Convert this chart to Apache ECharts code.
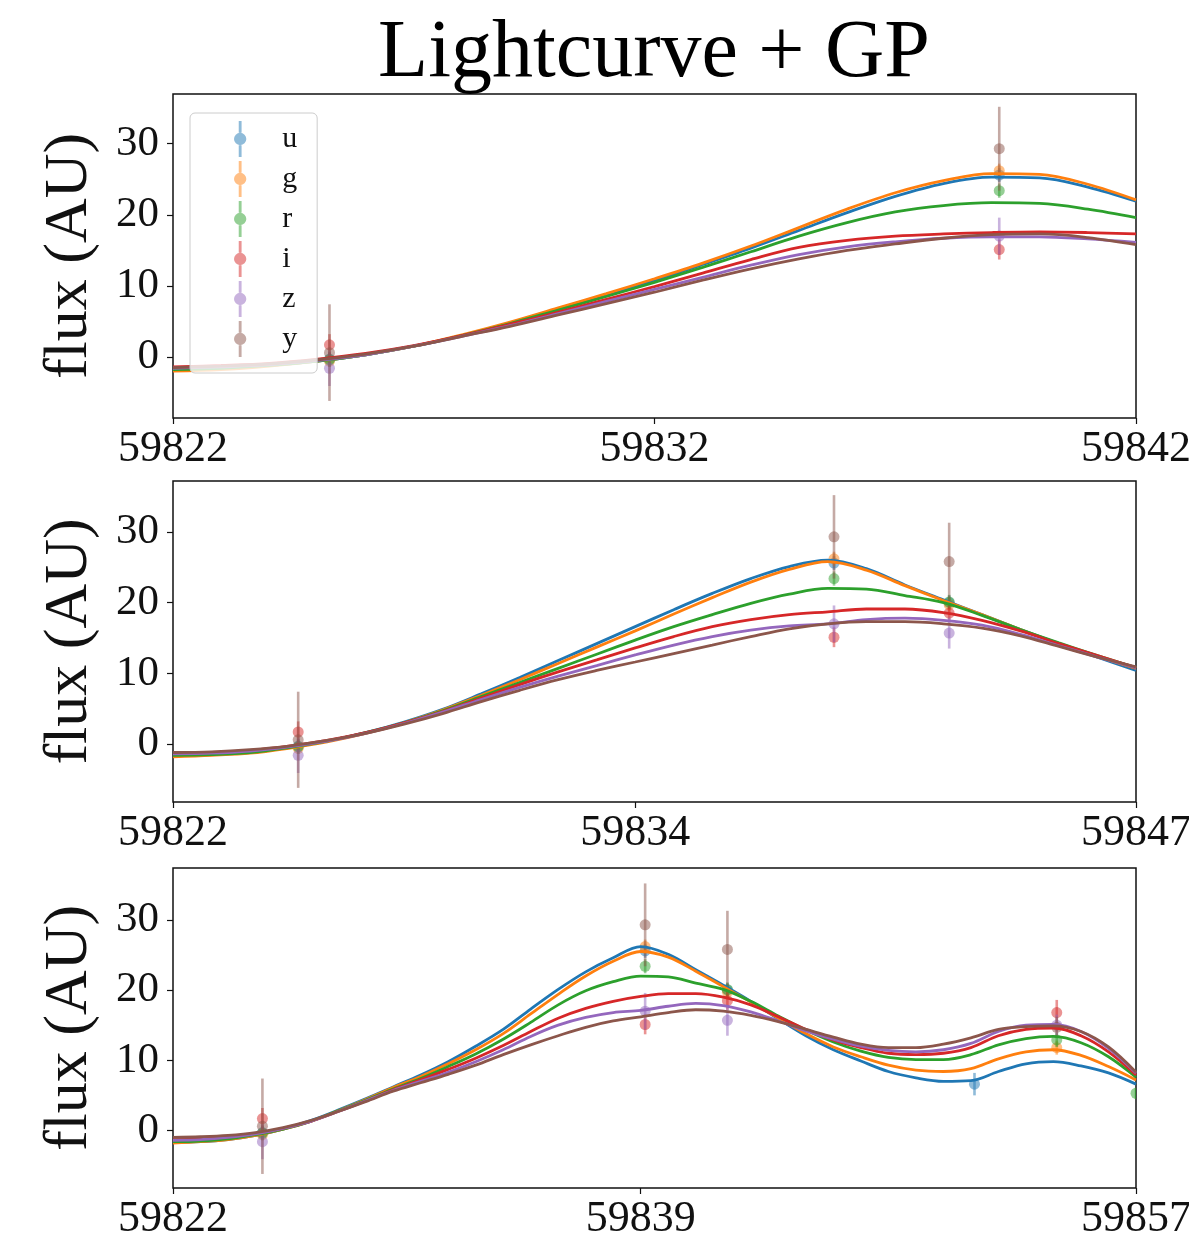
<!DOCTYPE html>
<html>
<head>
<meta charset="utf-8">
<title>Lightcurve + GP</title>
<script src="https://cdn.jsdelivr.net/npm/echarts@6/dist/echarts.min.js"></script>
<style>
  html, body { margin: 0; padding: 0; background: #fff; }
  #chart { width: 1189px; height: 1243px; }
</style>
</head>
<body>
<div id="chart"></div>
<script>
// Passbands and their colours
const bands = ['u', 'g', 'r', 'i', 'z', 'y'];
const bandColors = ['#1f77b4', '#ff7f0e', '#2ca02c', '#d62728', '#9467bd', '#8c564b'];

// Time axis: days counted from MJD 59822
const mjd0 = 59822;
const panelSpans = [20, 25, 35];
const panelMidTicks = [10, 12, 17];
const yTicks = [0, 10, 20, 30];
const yLimits = [[-8.6, 37.0], [-8.2, 37.2], [-8.2, 37.4]];

// Observations (days since MJD 59822), flux and 1-sigma errors per band
const obsDays = [3.25, 17.16, 20.15, 29.13, 32.12, 35.0];
const obsFlux = {
  u: [-0.3, 25.6, 20.0, 6.6, null, null],
  g: [-0.6, 26.2, 19.7, null, 11.8, null],
  r: [-0.4, 23.4, 20.1, null, 12.9, 5.3],
  i: [1.7, 15.1, 18.5, null, 16.8, null],
  z: [-1.6, 17.0, 15.7, null, 15.0, null],
  y: [0.6, 29.3, 25.8, null, 14.7, null]
};
const obsErr = {
  u: [1.0, 1.0, 1.0, 1.6, null, null],
  g: [0.8, 1.0, 1.0, null, 1.0, null],
  r: [1.0, 1.0, 1.0, null, 1.0, 0.8],
  i: [1.5, 1.4, 1.3, null, 1.8, null],
  z: [2.5, 2.6, 2.2, null, 1.5, null],
  y: [6.8, 5.9, 5.5, null, 1.5, null]
};

// GP mean curves, sampled once per day from the start of each panel
const gpDays1 = [0,1,2,3,4,5,6,7,8,9,10,11,12,13,14,15,16,17,18,19,20];
const gpPanel1 = {
  u: [-1.8,-1.6,-1.2,-0.6,0.3,1.5,3.0,4.8,6.8,8.8,10.8,13.0,15.3,17.8,20.3,22.6,24.4,25.3,25.2,23.9,21.9],
  g: [-2.0,-1.8,-1.3,-0.6,0.3,1.5,3.1,4.9,6.9,8.9,11.0,13.2,15.6,18.2,20.8,23.1,24.8,25.8,25.7,24.3,22.1],
  r: [-1.8,-1.6,-1.2,-0.6,0.3,1.5,3.0,4.7,6.6,8.5,10.5,12.6,14.8,17.0,18.9,20.4,21.3,21.7,21.6,20.8,19.6],
  i: [-1.4,-1.2,-0.9,-0.3,0.5,1.6,3.0,4.6,6.3,8.1,9.9,11.8,13.7,15.4,16.4,17.0,17.3,17.5,17.6,17.5,17.3],
  z: [-1.6,-1.4,-1.1,-0.5,0.3,1.5,2.9,4.4,6.1,7.8,9.5,11.2,12.9,14.4,15.5,16.2,16.7,16.9,16.9,16.6,16.1],
  y: [-1.5,-1.3,-1.0,-0.4,0.4,1.5,2.9,4.3,5.9,7.5,9.1,10.8,12.4,13.8,15.0,15.9,16.7,17.2,17.3,16.8,15.8]
};

const gpDays2 = [0,1,2,3,4,5,6,7,8,9,10,11,12,13,14,15,16,17,18,19,20,21,22,23,24,25];
const gpPanel2 = {
  u: [-1.6,-1.5,-1.2,-0.5,0.4,1.6,3.1,4.9,7.1,9.4,11.8,14.2,16.6,19.0,21.3,23.4,25.1,26.0,24.8,22.5,20.4,18.3,16.2,14.2,12.3,10.4],
  g: [-1.8,-1.6,-1.3,-0.6,0.3,1.5,3.0,4.8,6.9,9.1,11.4,13.7,16.0,18.4,20.7,22.9,24.7,25.8,24.6,22.4,20.3,18.3,16.2,14.2,12.4,10.7],
  r: [-1.6,-1.5,-1.2,-0.5,0.4,1.6,3.0,4.7,6.7,8.7,10.7,12.7,14.7,16.6,18.3,19.9,21.2,22.0,21.9,21.0,20.0,18.2,16.2,14.3,12.5,10.8],
  i: [-1.3,-1.2,-0.9,-0.3,0.5,1.6,3.0,4.6,6.5,8.4,10.2,11.9,13.6,15.2,16.6,17.6,18.3,18.7,19.1,19.1,18.6,17.5,16.0,14.2,12.5,10.8],
  z: [-1.4,-1.3,-1.0,-0.4,0.4,1.5,2.9,4.5,6.3,8.0,9.6,11.1,12.6,14.0,15.2,16.1,16.7,17.0,17.6,17.8,17.5,16.8,15.5,13.9,12.3,10.8],
  y: [-1.2,-1.1,-0.8,-0.3,0.5,1.5,2.8,4.3,6.0,7.6,9.1,10.4,11.6,12.8,14.0,15.2,16.3,17.0,17.3,17.3,17.0,16.4,15.3,13.8,12.3,10.9]
};

const gpDays3 = [0,1,2,3,4,5,6,7,8,9,10,11,12,13,14,15,16,17,18,19,20,21,22,23,24,25,26,27,28,29,30,31,32,33,34,35];
const gpPanel3 = {
  u: [-1.7,-1.6,-1.3,-0.7,0.2,1.4,2.9,4.5,6.2,7.9,9.8,12.0,14.4,17.3,20.1,22.6,24.6,26.2,25.1,22.9,20.7,18.4,15.9,13.5,11.5,9.9,8.4,7.5,7.0,7.1,8.4,9.5,9.8,9.2,8.2,6.6],
  g: [-1.8,-1.6,-1.3,-0.7,0.2,1.3,2.8,4.4,6.1,7.7,9.5,11.5,13.8,16.6,19.4,22.0,24.1,25.5,24.7,22.7,20.5,18.3,16.0,13.8,11.9,10.5,9.3,8.6,8.4,8.8,10.2,11.2,11.5,10.7,9.1,7.2],
  r: [-1.6,-1.5,-1.2,-0.6,0.2,1.3,2.8,4.3,5.9,7.4,9.1,10.9,13.0,15.4,17.9,19.9,21.2,22.0,21.9,21.0,20.1,18.4,16.3,14.3,12.6,11.3,10.4,10.1,10.1,10.8,12.2,13.1,13.4,12.5,10.5,7.6],
  i: [-1.3,-1.2,-0.9,-0.4,0.3,1.3,2.7,4.2,5.8,7.2,8.7,10.3,12.1,14.1,16.0,17.4,18.4,19.1,19.5,19.5,19.0,17.9,16.2,14.4,12.9,11.8,11.0,10.8,11.0,11.8,13.5,14.4,14.6,13.5,11.2,7.9],
  z: [-1.4,-1.3,-1.0,-0.5,0.3,1.3,2.7,4.2,5.7,7.0,8.3,9.8,11.5,13.4,15.0,16.1,16.8,17.1,17.7,18.1,17.8,16.9,15.6,14.2,13.0,12.0,11.4,11.2,11.5,12.4,14.1,15.0,15.1,14.1,11.7,8.2],
  y: [-1.0,-0.9,-0.7,-0.3,0.4,1.4,2.7,4.1,5.6,6.8,8.0,9.3,10.8,12.2,13.5,14.7,15.6,16.2,16.8,17.2,17.0,16.4,15.5,14.4,13.3,12.3,11.8,11.8,12.3,13.2,14.4,14.8,14.9,14.1,11.9,8.3]
};

const gpDays = [gpDays1, gpDays2, gpDays3];
const gpPanels = [gpPanel1, gpPanel2, gpPanel3];

// ---- layout and styling ----
const SERIF = '"Liberation Serif", "DejaVu Serif", serif';
const gridBoxes = [
  { left: 173, top: 94, width: 963, height: 324 },
  { left: 173, top: 481, width: 963, height: 321 },
  { left: 173, top: 868, width: 963, height: 320 }
];

// Errorbar glyph for the legend: bar above, dot, bar below
const ERRORBAR_ICON = 'path://M5.5,0 L8.5,0 L8.5,12.5 L5.5,12.5 Z M5.5,25.5 L8.5,25.5 L8.5,38 L5.5,38 Z ' +
  'M13.5,19 A6.5,6.5 0 1 1 0.5,19 A6.5,6.5 0 1 1 13.5,19 Z';

function renderErrorbar(params, api) {
  const t = api.value(0), f = api.value(1), e = api.value(2);
  const c = api.coord([t, f]);
  const hi = api.coord([t, f + e]);
  const lo = api.coord([t, f - e]);
  const color = api.visual('color');
  return {
    type: 'group',
    children: [
      { type: 'line', shape: { x1: c[0], y1: hi[1], x2: c[0], y2: lo[1] },
        style: { stroke: color, lineWidth: 2.6, opacity: 0.5 } },
      { type: 'circle', shape: { cx: c[0], cy: c[1], r: 5.5 },
        style: { fill: color, opacity: 0.5 } }
    ]
  };
}

const grids = gridBoxes.map(g => Object.assign({
  show: true, borderColor: '#111', borderWidth: 1.5, backgroundColor: '#fff',
  outerBoundsMode: 'none', containLabel: false
}, g));

const xAxes = panelSpans.map((span, p) => {
  const ticks = [mjd0, mjd0 + panelMidTicks[p], mjd0 + span];
  return {
    type: 'value', gridIndex: p, min: mjd0, max: mjd0 + span,
    position: 'bottom',
    axisLine: { show: false, onZero: false },
    splitLine: { show: false },
    axisTick: { show: true, length: 6, customValues: ticks, lineStyle: { color: '#111', width: 1.2 } },
    axisLabel: {
      customValues: ticks, margin: 9,
      formatter: v => String(Math.floor(v + 1e-6)),
      fontFamily: SERIF, fontSize: 44, color: '#111'
    }
  };
});

const yAxes = yLimits.map((lim, p) => ({
  type: 'value', gridIndex: p, min: lim[0], max: lim[1],
  position: 'left',
  name: 'flux (AU)', nameLocation: 'middle', nameGap: 72,
  nameTextStyle: { fontFamily: SERIF, fontSize: 62, color: '#111' },
  axisLine: { show: false, onZero: false },
  splitLine: { show: false },
  axisTick: { show: true, length: 6, customValues: yTicks, lineStyle: { color: '#111', width: 1.2 } },
  axisLabel: {
    customValues: yTicks, margin: 14,
    fontFamily: SERIF, fontSize: 43, color: '#111'
  }
}));

const series = [];
panelSpans.forEach((span, p) => {
  bands.forEach((b, k) => {
    const pts = [];
    obsDays.forEach((d, j) => {
      if (d <= span + 1e-9 && obsFlux[b][j] !== null) {
        pts.push([mjd0 + d, obsFlux[b][j], obsErr[b][j]]);
      }
    });
    series.push({
      name: b, type: 'custom', xAxisIndex: p, yAxisIndex: p,
      renderItem: renderErrorbar, clip: true,
      itemStyle: { color: bandColors[k], opacity: 0.5 },
      encode: { x: 0, y: 1 },
      data: pts, silent: true
    });
    series.push({
      name: b, type: 'line', xAxisIndex: p, yAxisIndex: p,
      showSymbol: false, smooth: 0.35, clip: true,
      lineStyle: { color: bandColors[k], width: 2.8 },
      itemStyle: { color: bandColors[k] },
      data: gpDays[p].map((d, i) => [mjd0 + d, gpPanels[p][b][i]]),
      silent: true
    });
  });
});

const chart = echarts.init(document.getElementById('chart'), null, { renderer: 'canvas' });
chart.setOption({
  animation: false,
  backgroundColor: '#fff',
  graphic: [{
    type: 'text', x: 654, y: 54, z: 10,
    style: {
      text: 'Lightcurve + GP', fill: '#000',
      font: '82px "Liberation Serif", "DejaVu Serif", serif',
      textAlign: 'center', textVerticalAlign: 'middle'
    }
  }],
  legend: {
    orient: 'vertical', left: 190, top: 113,
    padding: [8, 20, 16, 44],
    itemWidth: 14, itemHeight: 36, itemGap: 4,
    backgroundColor: 'rgba(255,255,255,0.8)',
    borderColor: '#cccccc', borderWidth: 1, borderRadius: 5,
    selectedMode: false,
    textStyle: { fontFamily: SERIF, fontSize: 30, color: '#111', padding: [0, 0, 0, 30] },
    data: bands.map((b, k) => ({
      name: b, icon: ERRORBAR_ICON,
      itemStyle: { color: bandColors[k], opacity: 0.5 }
    }))
  },
  grid: grids,
  xAxis: xAxes,
  yAxis: yAxes,
  series: series
});
</script>
</body>
</html>
